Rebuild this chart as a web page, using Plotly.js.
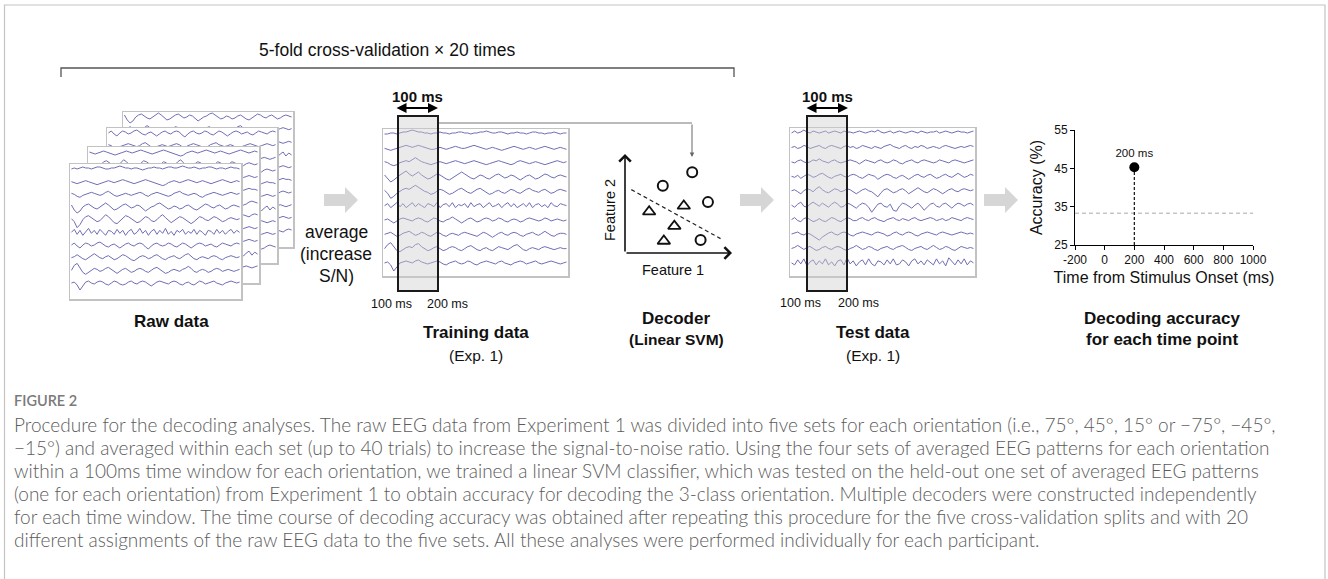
<!DOCTYPE html>
<html>
<head>
<meta charset="utf-8">
<script src="https://cdn.plot.ly/plotly-3.0.1.min.js"></script>
<style>html,body{margin:0;padding:0;background:#fff;}#chart{width:1328px;height:579px;}</style>
</head>
<body>
<div id="chart"></div>
<script>
// ---------------- DATA ----------------
// Raw EEG traces (10 channels, 60 samples, arbitrary µV-like units)
const raw0 = [0,1,0,1,2,1,1,0,1,2,2,1,0,0,1,1,2,3,2,1,1,0,1,1,0,-1,0,1,1,2,1,1,0,1,2,2,1,1,2,3,2,1,1,2,1,0,1,1,2,2,1,0,1,1,0,1,2,1,1,0];
const raw1 = [0,-1,-2,-1,0,1,0,-1,-2,-3,-2,-1,0,1,0,-1,0,1,2,1,0,-1,-2,-1,0,1,2,1,0,-1,-2,-3,-4,-3,-1,0,1,0,-1,0,1,2,1,0,-1,0,1,0,-1,-2,-1,0,1,2,1,0,-1,0,1,0];
const raw2 = [1,0,-2,-3,-1,0,1,2,1,0,-1,0,2,3,1,-1,-2,-1,0,1,0,-1,0,1,2,1,-1,-2,0,1,2,1,0,-1,-2,-1,1,2,3,1,0,-1,0,1,0,-2,-3,-1,0,1,2,1,0,-1,0,1,2,1,0,1];
const raw3 = [2,-3,-6,-4,0,2,3,1,-1,-2,0,2,4,2,-1,-3,-2,0,2,3,1,-1,0,2,1,-2,-4,-2,0,1,3,4,2,0,-2,-1,1,0,-2,-1,1,2,0,-2,-3,-1,1,3,2,0,-1,1,2,0,-2,-1,1,2,1,0];
const raw4 = [1,-2,-8,-5,0,3,4,2,0,-2,-1,2,5,3,0,-3,-4,-1,2,4,3,1,-1,-3,-2,1,3,2,-1,-2,0,3,5,2,-1,-3,-1,1,3,2,0,-2,-4,-2,1,3,2,0,-1,1,3,2,0,-2,-1,1,2,1,0,1];
const raw5 = [0,3,-2,2,-3,1,4,-1,2,-2,3,0,-3,2,1,-2,3,-1,2,-3,1,3,-2,0,4,-1,2,-3,1,3,-2,2,-1,4,-2,1,-3,2,0,3,-2,1,-1,3,-2,2,0,-3,2,1,-2,3,-1,2,-2,1,3,-1,2,0];
const raw6 = [0,2,-1,-3,0,2,1,-1,0,2,3,1,-1,-2,0,1,-1,-3,-1,1,2,0,-1,1,2,1,-2,-4,-1,1,2,0,-1,0,2,1,-1,-2,0,2,1,-1,-3,-1,1,2,1,-1,0,1,-1,-2,0,2,1,0,-1,1,2,1];
const raw7 = [0,1,3,1,-1,-2,0,2,4,2,0,-1,1,2,0,-2,-1,1,3,2,0,-2,-3,-1,1,2,1,-1,0,2,3,1,-1,-2,0,1,2,0,-1,1,3,4,1,-1,-2,0,1,0,-1,1,2,1,-1,-2,0,1,2,1,0,1];
const raw8 = [0,5,7,3,-2,-4,-2,0,2,1,-1,0,2,3,1,-1,-3,-1,1,2,0,-2,-1,1,2,1,-1,-2,0,2,3,1,-1,-3,-2,0,1,0,-1,1,2,4,2,-1,-2,0,1,0,-2,-1,1,2,1,-1,0,1,0,-1,0,1];
const raw9 = [0,1,-2,-7,-3,1,2,0,-1,1,2,1,-1,-2,0,2,1,-1,-2,-1,1,2,0,-1,1,2,1,-1,-3,-1,1,2,1,0,-1,1,2,1,-1,-2,0,1,-1,-2,0,2,1,-1,0,1,2,0,-1,-2,0,1,2,1,0,1];

// Averaged training data (Exp. 1)
const train0 = [0,0,1,1,0,1,2,2,3,4,3,2,2,1,1,0,1,1,2,1,1,0,1,1,2,2,1,1,0,1,1,2,2,3,2,1,1,2,2,1,0,1,1,2,1,1,0,1,2,2,1,1,0,1,1,2,1,0,1,1];
const train1 = [0,-1,-2,-1,0,1,2,3,2,1,2,3,2,1,0,-1,-1,0,1,0,-1,0,1,2,1,0,0,1,2,3,2,1,0,-1,0,1,0,-1,-2,-1,0,1,2,1,0,-1,0,1,0,-1,0,1,2,1,0,-1,0,1,0,-1];
const train2 = [1,0,-2,-3,-2,0,1,2,1,3,5,3,1,0,-1,-2,-1,0,1,0,-1,0,1,2,1,0,-1,0,1,2,1,0,-1,-2,-1,0,1,2,1,0,-1,-2,-1,1,2,1,0,-1,0,1,0,-1,-2,-1,0,1,2,1,0,1];
const train3 = [2,-2,-5,-3,0,2,4,6,3,1,3,5,2,0,-2,-1,1,3,2,0,-2,-3,-1,1,3,5,3,1,-1,-2,0,2,1,-1,-2,0,2,3,1,-1,0,2,1,-1,-3,-1,1,2,0,-2,-1,1,3,2,0,-1,1,2,1,0];
const train4 = [1,-2,-7,-5,-2,0,2,3,2,4,6,4,2,0,-1,-3,-2,0,2,1,-1,-3,-2,0,2,3,1,-1,-2,0,2,3,1,-1,-3,-2,0,1,-1,-2,0,2,1,-1,-2,0,2,3,1,0,-1,1,2,0,-2,-1,1,2,1,0];
const train5 = [0,2,-2,1,3,-1,2,-2,1,3,-1,2,0,-2,2,1,-1,3,-2,1,2,-1,3,-2,1,0,2,-2,3,-1,1,2,-2,1,3,-1,0,2,-2,1,3,-1,2,-2,0,2,-1,3,-2,1,2,-1,1,-2,3,0,-1,2,1,0];
const train6 = [0,1,-1,-3,-1,1,2,1,0,-1,1,2,1,-1,-2,0,2,1,-1,-2,0,1,3,1,-1,-3,-1,1,2,0,-2,-1,1,2,1,-1,0,2,1,-1,-2,0,1,0,-2,-1,1,2,1,0,-1,0,2,1,-1,0,1,0,-1,0];
const train7 = [0,1,2,0,-2,-1,1,2,3,1,-1,0,2,1,-1,-2,0,2,1,-1,-2,0,1,0,-1,1,2,1,0,-1,-2,0,2,1,-1,-3,-1,1,2,0,-1,1,2,1,-1,-2,0,1,2,0,-1,1,3,1,-1,-2,0,1,1,0];
const train8 = [0,4,6,2,-2,-3,-1,1,2,1,4,5,2,0,-2,-1,1,2,0,-2,-1,1,2,1,-1,-2,0,2,3,1,-1,-2,0,1,-1,-2,0,2,1,0,-1,1,3,4,1,-1,-2,0,1,0,-1,1,2,1,0,-1,0,1,0,0];
const train9 = [0,1,-2,-8,-4,0,1,2,1,0,2,3,1,0,-1,0,1,2,1,-1,-2,0,1,2,0,-1,0,2,1,-1,-2,0,1,2,1,0,-1,1,2,0,-1,-2,0,1,2,1,-1,0,1,2,0,-1,0,1,2,1,0,-1,0,1];

// Averaged test data (Exp. 1)
const test0 = [0,2,0,1,3,1,0,2,1,0,1,2,0,1,2,1,0,2,1,1,0,1,2,1,0,1,2,1,3,1,0,1,2,0,1,2,1,0,1,2,1,0,2,1,0,1,1,2,0,1,2,1,0,1,2,1,1,0,1,2];
const test1 = [0,1,-1,0,2,1,-1,0,1,2,0,-1,1,2,1,0,-1,1,2,0,1,-1,0,2,1,0,-1,1,0,-1,1,2,3,1,0,-1,1,2,0,-1,1,0,2,1,-1,0,1,0,-1,1,2,1,0,-1,0,1,0,1,2,1];
const test2 = [0,-1,1,2,0,-1,0,2,1,3,1,0,-1,1,2,0,-1,0,1,2,1,0,-2,0,2,1,0,-1,1,2,0,-1,0,2,1,-1,-2,0,1,2,0,-1,1,2,1,0,-1,0,2,1,0,-1,1,2,1,0,-1,0,1,2];
const test3 = [0,-1,1,-2,0,2,1,-1,0,2,3,1,-1,-2,0,1,2,0,-1,1,2,1,-1,-2,0,2,1,0,-3,-1,1,2,1,-1,-2,0,1,-1,-3,-1,1,2,0,-1,1,2,0,-2,-1,1,2,0,-1,1,3,1,-1,0,2,1];
const test4 = [0,1,-1,-3,0,2,1,-1,2,4,1,-1,-2,0,2,1,-1,0,2,1,-1,-3,-1,1,2,0,-1,-4,-6,-2,1,2,0,-2,-1,1,2,0,-3,-1,1,3,1,-1,-2,0,2,1,-1,-3,-1,1,2,0,-1,1,2,1,0,1];
const test5 = [0,-2,1,3,-1,-2,1,3,1,-1,2,0,-2,1,3,1,-2,-1,2,1,-1,-3,0,2,1,-2,-7,-3,1,2,-1,-2,1,-5,-6,-1,2,1,-1,-3,0,2,-1,-5,-2,1,2,-1,-2,1,2,-1,-3,0,2,1,-1,1,2,0];
const test6 = [0,2,-1,-2,1,2,0,-2,-1,1,-1,-2,0,2,1,-1,-2,0,2,1,-1,-1,1,2,0,-1,1,2,0,-1,-2,0,1,2,0,-1,1,0,-1,1,2,0,-1,0,1,2,1,-1,0,1,-1,0,2,1,0,-1,1,2,1,0];
const test7 = [0,1,2,0,-1,1,0,-2,-4,-6,-3,-1,1,2,0,-1,1,2,1,-1,-2,0,1,2,1,0,-1,1,2,1,0,-2,-1,1,2,0,-1,1,2,1,-1,-2,0,1,2,1,0,-1,1,2,1,0,-1,0,1,2,1,0,1,0];
const test8 = [0,1,3,1,-1,1,2,0,-2,-1,1,2,0,-1,1,2,1,-1,-2,0,1,3,1,-1,0,2,1,-1,-2,0,1,2,0,-1,1,2,3,1,-1,-2,0,1,2,0,-1,1,3,1,-1,0,2,1,-1,-2,0,2,1,0,1,0];
const test9 = [0,-2,3,-1,4,-3,1,3,-2,2,-1,4,-2,1,-3,2,3,-2,5,-1,2,-3,1,3,-2,4,-1,-3,2,1,-2,3,-1,4,-2,-1,3,1,-3,2,4,-1,2,-2,3,0,-2,4,-1,2,-3,5,1,-2,3,-1,4,-2,2,0];

// Decoder feature space (illustrative points)
const circleF1 = [6.4, 3.6, 7.9, 7.2];
const circleF2 = [8.4, 7.0, 5.3, 1.35];
const triangleF1 = [2.3, 5.6, 4.7, 3.7];
const triangleF2 = [4.3, 4.9, 2.8, 1.25];
const boundaryF1 = [0.6, 9.1];
const boundaryF2 = [6.6, 1.5];

// Decoding accuracy panel
const accTime = [200];
const accValue = [45.3];
const accLabel = ['200 ms'];
const chanceTime = [-200, 1000];
const chanceValue = [33.3, 33.3];
const accXTicks = [-200, 0, 200, 400, 600, 800, 1000];
const accYTicks = [25, 35, 45, 55];

// ---------------- LAYOUT HELPERS ----------------
const W = 1328, H = 579;
const px = x => x / W;
const py = y => 1 - y / H;
const FONT = 'Liberation Sans, Arial, sans-serif';
const EEG_COLOR = '#6e6eb6';

const rawSets = [raw0, raw1, raw2, raw3, raw4, raw5, raw6, raw7, raw8, raw9];
const trainSets = [train0, train1, train2, train3, train4, train5, train6, train7, train8, train9];
const testSets = [test0, test1, test2, test3, test4, test5, test6, test7, test8, test9];
const samples = raw0.map((_, i) => i);

const data = [];
const layout = {
  width: W, height: H,
  margin: {l: 0, r: 0, t: 0, b: 0, pad: 0},
  paper_bgcolor: '#ffffff',
  plot_bgcolor: '#ffffff',
  showlegend: false,
  font: {family: FONT, color: '#111'},
  shapes: [], annotations: []
};

function axName(k, a) { return k === 1 ? a : a + k; }
function axKey(k, a) { return (a === 'x' ? 'xaxis' : 'yaxis') + (k === 1 ? '' : k); }

function eegPanel(k, box, sets, order, sp, topPad, botPad) {
  const [x0, y0, x1, y1] = box;
  const n = samples.length;
  layout[axKey(k, 'x')] = {
    domain: [px(x0), px(x1)], anchor: axName(k, 'y'), range: [-0.5, n - 0.5],
    showline: true, mirror: true, linecolor: '#c2c2c2', linewidth: 1.5,
    showgrid: false, zeroline: false, showticklabels: false, ticks: '', fixedrange: true
  };
  layout[axKey(k, 'y')] = {
    domain: [py(y1), py(y0)], anchor: axName(k, 'x'), range: [-(9 * sp) - botPad, topPad],
    showline: true, mirror: true, linecolor: '#c2c2c2', linewidth: 1.5,
    showgrid: false, zeroline: false, showticklabels: false, ticks: '', fixedrange: true
  };
  order.forEach((ci, c) => {
    data.push({
      type: 'scatter', mode: 'lines', x: samples,
      y: sets[ci].map(v => v - c * sp),
      xaxis: axName(k, 'x'), yaxis: axName(k, 'y'),
      line: {color: EEG_COLOR, width: 1}, hoverinfo: 'skip'
    });
  });
}

// Raw data stack (back to front)
const rawBoxes = [[123, 112, 293, 247], [107, 128, 277, 263], [88, 147, 259, 283], [70, 164, 241, 299]];
const rawOrders = [[3,7,1,5,9,0,4,8,2,6], [6,2,8,4,0,9,5,1,7,3], [1,4,7,0,3,6,9,2,5,8], [0,1,2,3,4,5,6,7,8,9]];
rawBoxes.forEach((b, i) => eegPanel(i + 1, b, rawSets, rawOrders[i], 12.7, 5, 16));
eegPanel(5, [383, 129, 568, 276], trainSets, [0,1,2,3,4,5,6,7,8,9], 14.3, 5, 13);
eegPanel(6, [790, 128, 975, 276], testSets, [0,1,2,3,4,5,6,7,8,9], 14.3, 5, 13);

// Decoder subplot
layout.xaxis7 = {domain: [px(625), px(730)], anchor: 'y7', range: [0, 10], visible: false, fixedrange: true};
layout.yaxis7 = {domain: [py(253), py(157)], anchor: 'x7', range: [0, 10], visible: false, fixedrange: true};
data.push({type: 'scatter', mode: 'lines', x: boundaryF1, y: boundaryF2, xaxis: 'x7', yaxis: 'y7',
  line: {color: '#222', width: 1.2, dash: '4px,3px'}, hoverinfo: 'skip', cliponaxis: false});
data.push({type: 'scatter', mode: 'markers', x: circleF1, y: circleF2, xaxis: 'x7', yaxis: 'y7',
  marker: {symbol: 'circle-open', size: 10, color: '#111', line: {width: 2, color: '#111'}}, hoverinfo: 'skip', cliponaxis: false});
data.push({type: 'scatter', mode: 'markers', x: triangleF1, y: triangleF2, xaxis: 'x7', yaxis: 'y7',
  marker: {symbol: 'triangle-up-open', size: 11, color: '#111', line: {width: 1.8, color: '#111'}}, hoverinfo: 'skip', cliponaxis: false});

// Accuracy subplot
const accAxisCommon = {showline: true, linecolor: '#000', linewidth: 1, ticks: 'outside', ticklen: 4,
  tickcolor: '#000', tickwidth: 1, showgrid: false, zeroline: false, fixedrange: true,
  tickfont: {family: FONT, size: 12, color: '#111'}};
layout.xaxis8 = Object.assign({}, accAxisCommon, {domain: [px(1075), px(1253)], anchor: 'y8', range: [-200, 1000],
  tickmode: 'array', tickvals: accXTicks, ticktext: accXTicks.map(String),
  title: {text: 'Time from Stimulus Onset (ms)', font: {family: FONT, size: 16, color: '#111'}, standoff: 5}});
layout.yaxis8 = Object.assign({}, accAxisCommon, {domain: [py(245), py(130)], anchor: 'x8', range: [25, 55],
  tickmode: 'array', tickvals: accYTicks, ticktext: accYTicks.map(String),
  title: {text: 'Accuracy (%)', font: {family: FONT, size: 16, color: '#111'}, standoff: 7}});
data.push({type: 'scatter', mode: 'lines', x: chanceTime, y: chanceValue, xaxis: 'x8', yaxis: 'y8',
  line: {color: '#a8a8a8', width: 1, dash: '4px,3px'}, hoverinfo: 'skip'});
data.push({type: 'scatter', mode: 'lines', x: [accTime[0], accTime[0]], y: [25, accValue[0]], xaxis: 'x8', yaxis: 'y8',
  line: {color: '#111', width: 1.2, dash: '3px,2px'}, hoverinfo: 'skip'});
data.push({type: 'scatter', mode: 'markers+text', x: accTime, y: accValue, text: accLabel, textposition: 'top center',
  textfont: {family: FONT, size: 11.5, color: '#111'}, xaxis: 'x8', yaxis: 'y8',
  marker: {color: '#000', size: 10}, hoverinfo: 'skip', cliponaxis: false});

// ---------------- SHAPES ----------------
function pathPx(pts, close) {
  return pts.map((p, i) => (i ? 'L' : 'M') + px(p[0]).toFixed(5) + ',' + py(p[1]).toFixed(5)).join(' ') + (close ? ' Z' : '');
}
const S = layout.shapes;
// outer frame
S.push({type: 'rect', xref: 'paper', yref: 'paper', x0: px(4.5), x1: px(1325), y0: py(5), y1: py(600),
  line: {color: '#c4c4c4', width: 1.2}, layer: 'below'});
// bracket
S.push({type: 'path', xref: 'paper', yref: 'paper', path: pathPx([[61, 77], [61, 68], [734, 68], [734, 77]], false),
  line: {color: '#555', width: 1.3}});
// gray block arrows
[324, 740, 984].forEach(x0 => {
  S.push({type: 'path', xref: 'paper', yref: 'paper', fillcolor: '#d6d6d6', line: {width: 0},
    path: pathPx([[x0, 194], [x0 + 21, 194], [x0 + 21, 187], [x0 + 34, 200], [x0 + 21, 213], [x0 + 21, 206], [x0, 206]], true)});
});
// time windows
[[398, 438], [807, 847]].forEach(([a, b]) => {
  S.push({type: 'rect', xref: 'paper', yref: 'paper', x0: px(a), x1: px(b), y0: py(291), y1: py(116),
    fillcolor: 'rgba(205,205,205,0.42)', line: {color: '#1a1a1a', width: 2}, layer: 'above'});
});
// connector from training window to decoder
S.push({type: 'line', xref: 'paper', yref: 'paper', x0: px(439), x1: px(692), y0: py(123), y1: py(123),
  line: {color: '#777', width: 1}});

// ---------------- ANNOTATIONS ----------------
const A = layout.annotations;
function T(text, x, y, size, extra) {
  A.push(Object.assign({text: text, x: px(x), y: py(y), xref: 'paper', yref: 'paper', showarrow: false,
    xanchor: 'center', yanchor: 'middle', font: {family: FONT, size: size, color: '#111'}}, extra || {}));
}
function ARROW(hx, hy, ax, ay, opts) {
  A.push(Object.assign({text: '', x: px(hx), y: py(hy), xref: 'paper', yref: 'paper', showarrow: true,
    ax: ax, ay: ay, axref: 'pixel', ayref: 'pixel', standoff: 0, startstandoff: 0}, opts));
}

T('5-fold cross-validation × 20 times', 387, 50, 17.5);
T('<b>100 ms</b>', 417, 96, 15);
T('<b>100 ms</b>', 827, 96, 15);
ARROW(438, 108, -43, 0, {arrowhead: 2, startarrowhead: 2, arrowside: 'end+start', arrowsize: 1, arrowwidth: 2, arrowcolor: '#000'});
ARROW(848, 108, -43, 0, {arrowhead: 2, startarrowhead: 2, arrowside: 'end+start', arrowsize: 1, arrowwidth: 2, arrowcolor: '#000'});
T('100 ms', 391, 304, 12.5);
T('200 ms', 447, 304, 12.5);
T('100 ms', 801, 303, 12.5);
T('200 ms', 858, 303, 12.5);
ARROW(692, 157, 0, -34, {arrowhead: 2, arrowsize: 0.9, arrowwidth: 1, arrowcolor: '#666'});
// decoder axes
ARROW(625, 154, 0, 99, {arrowhead: 4, arrowsize: 1.4, arrowwidth: 1.6, arrowcolor: '#111'});
ARROW(732, 253, -107, 0, {arrowhead: 4, arrowsize: 1.4, arrowwidth: 1.6, arrowcolor: '#111'});
T('Feature 2', 610, 210, 14.5, {textangle: -90});
T('Feature 1', 673, 270, 14.5);

T('<b>Raw data</b>', 171, 321, 17);
T('average', 336, 232, 17.5);
T('(increase', 336, 254, 17.5);
T('S/N)', 336, 276, 17.5);
T('<b>Training data</b>', 476, 332, 17);
T('(Exp. 1)', 476, 355, 15.5);
T('<b>Decoder</b>', 676, 318, 17);
T('<b>(Linear SVM)</b>', 676, 339, 15.5);
T('<b>Test data</b>', 873, 332, 17);
T('(Exp. 1)', 873, 355, 15.5);
T('<b>Decoding accuracy</b>', 1162, 318, 17);
T('<b>for each time point</b>', 1162, 339, 17);

// caption
const CAP_FONT = 'Lato, Open Sans, sans-serif';
const captionLines = [
  'Procedure for the decoding analyses. The raw EEG data from Experiment 1 was divided into five sets for each orientation (i.e., 75°, 45°, 15° or −75°, −45°,',
  '−15°) and averaged within each set (up to 40 trials) to increase the signal-to-noise ratio. Using the four sets of averaged EEG patterns for each orientation',
  'within a 100ms time window for each orientation, we trained a linear SVM classifier, which was tested on the held-out one set of averaged EEG patterns',
  '(one for each orientation) from Experiment 1 to obtain accuracy for decoding the 3-class orientation. Multiple decoders were constructed independently',
  'for each time window. The time course of decoding accuracy was obtained after repeating this procedure for the five cross-validation splits and with 20',
  'different assignments of the raw EEG data to the five sets. All these analyses were performed individually for each participant.'
];
T('FIGURE 2', 12, 400, 14.5, {xanchor: 'left', font: {family: CAP_FONT, size: 14.5, color: '#7a7a7a', weight: 600}});
captionLines.forEach((line, i) => {
  T(line, 12, 424 + 23 * i, 19, {xanchor: 'left', font: {family: CAP_FONT, size: 19, color: '#5c5c5c', weight: 300}});
});

Plotly.newPlot('chart', data, layout, {displayModeBar: false, staticPlot: true});
</script>
</body>
</html>
